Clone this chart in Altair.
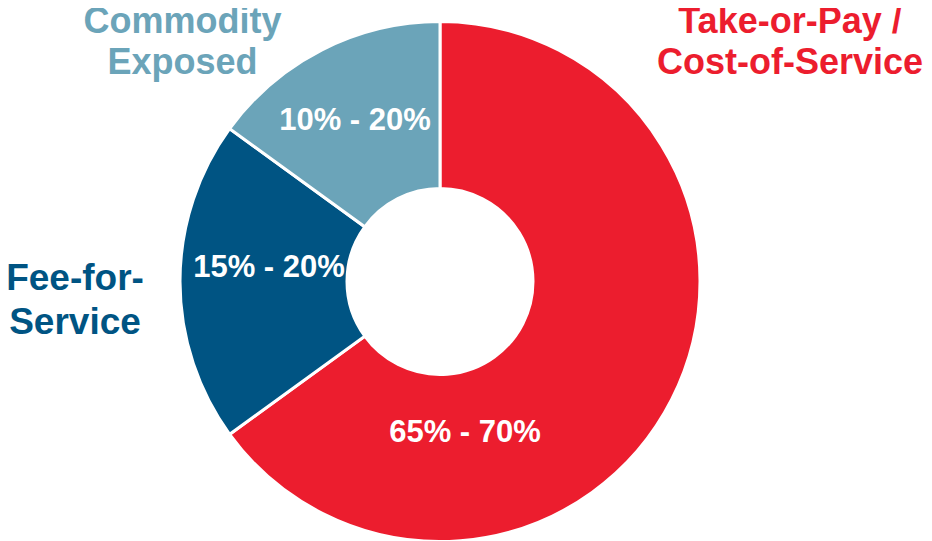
import altair as alt
import pandas as pd

# ---- data ----
categories = ["Take-or-Pay / Cost-of-Service", "Fee-for-Service", "Commodity Exposed"]
shares = [65, 20, 15]                      # slice sizes (% of circle)
range_labels = ["65% - 70%", "15% - 20%", "10% - 20%"]
outer_labels = [["Take-or-Pay /", "Cost-of-Service"], ["Fee-for-", "Service"], ["Commodity", "Exposed"]]
colors = ["#EC1D2E", "#005483", "#6BA4B9"]

df = pd.DataFrame({
    "category": categories,
    "value": shares,
    "order": list(range(len(categories))),
})

CX, CY = 432, 273.5  # donut centre (chart coordinates)

donut = alt.Chart(df).mark_arc(
    innerRadius=93, outerRadius=260, stroke="white", strokeWidth=3
).encode(
    theta=alt.Theta("value:Q", stack=True),
    order=alt.Order("order:Q", sort="ascending"),
    color=alt.Color("category:N", scale=alt.Scale(domain=categories, range=colors), legend=None),
    x=alt.value(CX),
    y=alt.value(CY),
)

FONT = "Liberation Sans"

# label placement (styling, not data): x centre, first baseline, line step, font size
outer_pos = [(782, 25, 41, 36), (67, 282, 44, 37), (174.5, 25, 41, 36)]
inner_pos = [(457, 434), (261, 269), (347, 122)]

layers = [donut]
for i in range(len(categories)):
    x, y, lh, fs = outer_pos[i]
    for j, line in enumerate(outer_labels[i]):
        layers.append(
            alt.Chart(pd.DataFrame({"t": [line]})).mark_text(
                font=FONT, fontWeight="bold", fontSize=fs, align="center",
                baseline="alphabetic", color=colors[i]
            ).encode(text="t:N", x=alt.value(x), y=alt.value(y + j * lh))
        )
    ix, iy = inner_pos[i]
    layers.append(
        alt.Chart(pd.DataFrame({"t": [range_labels[i]]})).mark_text(
            font=FONT, fontWeight="bold", fontSize=31, align="center",
            baseline="alphabetic", color="white"
        ).encode(text="t:N", x=alt.value(ix), y=alt.value(iy))
    )

chart = alt.layer(*layers).properties(
    width=916, height=533, padding=0, autosize=alt.AutoSizeParams(type="none"),
    background="white",
).configure_view(stroke=None)

chart.save("out.html", embed_options={"renderer": "svg", "actions": False})
